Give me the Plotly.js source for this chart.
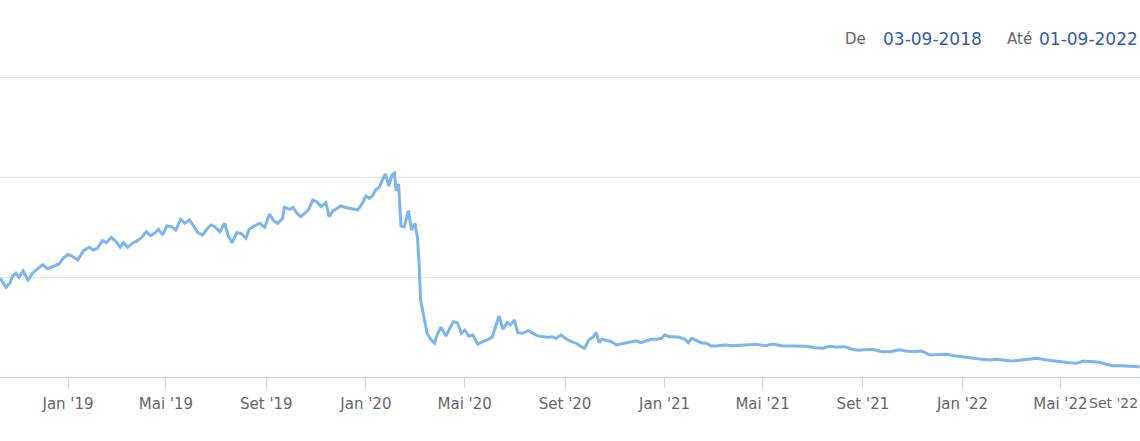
<!DOCTYPE html>
<html>
<head>
<meta charset="utf-8">
<script src="https://cdn.plot.ly/plotly-3.0.1.min.js"></script>
<style>
	body { margin: 0; background: #fff; }
	#chart { width: 1140px; height: 441px; }
</style>
</head>
<body>
<div id="chart"></div>
<script>
const dates = [
	'2018-10-10', '2018-10-13', '2018-10-17', '2018-10-22', '2018-10-25', '2018-10-29',
	'2018-11-02', '2018-11-07', '2018-11-13', '2018-11-19', '2018-11-25', '2018-12-01',
	'2018-12-07', '2018-12-14', '2018-12-21', '2018-12-26', '2019-01-01', '2019-01-07',
	'2019-01-13', '2019-01-20', '2019-01-27', '2019-02-01', '2019-02-06', '2019-02-12',
	'2019-02-17', '2019-02-23', '2019-03-01', '2019-03-06', '2019-03-10', '2019-03-15',
	'2019-03-22', '2019-03-27', '2019-04-01', '2019-04-07', '2019-04-12', '2019-04-17',
	'2019-04-22', '2019-04-27', '2019-05-02', '2019-05-08', '2019-05-13', '2019-05-19',
	'2019-05-24', '2019-05-30', '2019-06-04', '2019-06-09', '2019-06-15', '2019-06-20',
	'2019-06-25', '2019-06-30', '2019-07-06', '2019-07-12', '2019-07-16', '2019-07-21',
	'2019-07-27', '2019-08-01', '2019-08-07', '2019-08-11', '2019-08-17', '2019-08-24',
	'2019-08-30', '2019-09-05', '2019-09-10', '2019-09-15', '2019-09-21', '2019-09-23',
	'2019-09-30', '2019-10-04', '2019-10-08', '2019-10-13', '2019-10-18', '2019-10-23',
	'2019-10-28', '2019-11-02', '2019-11-07', '2019-11-13', '2019-11-17', '2019-11-22',
	'2019-11-27', '2019-12-01', '2019-12-06', '2019-12-12', '2019-12-18', '2019-12-22',
	'2019-12-28', '2020-01-01', '2020-01-05', '2020-01-09', '2020-01-13', '2020-01-18',
	'2020-01-21', '2020-01-25', '2020-01-29', '2020-02-02', '2020-02-05', '2020-02-07',
	'2020-02-10', '2020-02-13', '2020-02-17', '2020-02-22', '2020-02-26', '2020-03-01',
	'2020-03-04', '2020-03-06', '2020-03-08', '2020-03-11', '2020-03-14', '2020-03-16',
	'2020-03-21', '2020-03-25', '2020-03-29', '2020-04-02', '2020-04-08', '2020-04-12',
	'2020-04-17', '2020-04-22', '2020-04-27', '2020-05-01', '2020-05-06', '2020-05-11',
	'2020-05-17', '2020-05-23', '2020-05-30', '2020-06-04', '2020-06-07', '2020-06-12',
	'2020-06-17', '2020-06-22', '2020-06-26', '2020-07-01', '2020-07-05', '2020-07-11',
	'2020-07-18', '2020-07-24', '2020-07-30', '2020-08-05', '2020-08-11', '2020-08-16',
	'2020-08-21', '2020-08-27', '2020-09-03', '2020-09-09', '2020-09-15', '2020-09-21',
	'2020-09-25', '2020-09-30', '2020-10-05', '2020-10-09', '2020-10-13', '2020-10-16',
	'2020-10-22', '2020-10-28', '2020-11-03', '2020-11-09', '2020-11-15', '2020-11-21',
	'2020-11-27', '2020-12-03', '2020-12-10', '2020-12-16', '2020-12-22', '2020-12-28',
	'2021-01-01', '2021-01-07', '2021-01-13', '2021-01-19', '2021-01-26', '2021-01-30',
	'2021-02-03', '2021-02-09', '2021-02-15', '2021-02-21', '2021-02-27', '2021-03-05',
	'2021-03-16', '2021-03-26', '2021-04-05', '2021-04-15', '2021-04-23', '2021-05-04',
	'2021-05-14', '2021-05-24', '2021-06-03', '2021-06-13', '2021-06-24', '2021-07-04',
	'2021-07-14', '2021-07-22', '2021-07-30', '2021-08-10', '2021-08-18', '2021-08-26',
	'2021-09-05', '2021-09-13', '2021-09-24', '2021-10-04', '2021-10-16', '2021-10-24',
	'2021-11-03', '2021-11-12', '2021-11-22', '2021-12-02', '2021-12-12', '2021-12-22',
	'2022-01-02', '2022-01-12', '2022-01-22', '2022-02-03', '2022-02-11', '2022-02-19',
	'2022-03-02', '2022-03-12', '2022-03-22', '2022-04-02', '2022-04-12', '2022-04-22',
	'2022-05-02', '2022-05-12', '2022-05-21', '2022-05-29', '2022-06-08', '2022-06-18',
	'2022-06-26', '2022-07-04', '2022-07-15', '2022-07-25', '2022-08-06'
];

const values = [
	9.87, 9.53, 8.97, 9.43, 10.10, 10.37,
	9.97, 10.60, 9.70, 10.43, 10.80, 11.23,
	10.83, 11.10, 11.30, 11.87, 12.27, 12.03,
	11.70, 12.63, 12.97, 12.70, 12.87, 13.63,
	13.43, 13.97, 13.53, 12.97, 13.43, 12.97,
	13.43, 13.63, 13.93, 14.53, 14.13, 14.37,
	14.77, 14.20, 15.10, 15.03, 14.70, 15.77,
	15.37, 15.70, 15.03, 14.43, 14.20, 14.77,
	15.20, 15.03, 14.53, 15.37, 14.20, 13.43,
	14.43, 14.37, 13.87, 14.77, 15.10, 15.37,
	14.97, 16.30, 15.63, 15.37, 15.87, 16.97,
	16.77, 16.97, 16.43, 16.03, 16.37, 16.77,
	17.70, 17.53, 17.03, 17.43, 16.03, 16.63,
	16.87, 17.10, 16.97, 16.87, 16.77, 16.70,
	17.43, 18.10, 17.87, 18.10, 18.70, 19.03,
	19.70, 20.30, 19.10, 20.20, 20.37, 18.63,
	19.30, 15.10, 15.03, 16.63, 14.70, 15.37,
	14.03, 11.70, 7.70, 6.37, 5.37, 4.37,
	3.70, 3.37, 4.37, 4.97, 4.10, 4.70,
	5.53, 5.43, 4.37, 4.70, 4.10, 4.20,
	3.30, 3.53, 3.77, 4.03, 4.87, 6.10,
	4.77, 5.43, 5.20, 5.70, 4.43, 4.37,
	4.63, 4.37, 4.10, 4.03, 3.97, 4.03,
	3.87, 4.20, 3.77, 3.53, 3.37, 3.03,
	2.87, 3.70, 3.97, 4.43, 3.43, 3.77,
	3.63, 3.53, 3.20, 3.30, 3.37, 3.53,
	3.63, 3.43, 3.63, 3.77, 3.77, 3.87,
	4.20, 4.03, 4.03, 3.97, 3.77, 3.43,
	3.87, 3.63, 3.43, 3.37, 3.10, 3.10,
	3.20, 3.13, 3.20, 3.27, 3.27, 3.13,
	3.30, 3.13, 3.13, 3.13, 3.07, 2.93,
	2.87, 3.07, 3.00, 3.03, 2.80, 2.67,
	2.73, 2.77, 2.53, 2.53, 2.73, 2.60,
	2.53, 2.60, 2.20, 2.27, 2.27, 2.13,
	2.00, 1.87, 1.80, 1.70, 1.77, 1.70,
	1.60, 1.67, 1.73, 1.87, 1.73, 1.60,
	1.53, 1.43, 1.37, 1.60, 1.53, 1.47,
	1.27, 1.13, 1.13, 1.10, 1.03
];

const tickVals = [
	'2019-01-01', '2019-05-01', '2019-09-01',
	'2020-01-01', '2020-05-01', '2020-09-01',
	'2021-01-01', '2021-05-01', '2021-09-01',
	'2022-01-01', '2022-05-01'
];
const tickText = [
	"Jan '19", "Mai '19", "Set '19",
	"Jan '20", "Mai '20", "Set '20",
	"Jan '21", "Mai '21", "Set '21",
	"Jan '22", "Mai '22"
];
const lastTickText = "Set '22";

const fromLabel = 'De';
const fromDate = '03-09-2018';
const toLabel = 'Até';
const toDate = '01-09-2022';

const font = 'DejaVu Sans, sans-serif';
// plot area runs from y=72 to y=377 (305 px for 30.5 units)
const headerY = (30.5 - 0) / 30.5 + 33 / 305;
const tickLabelY = -26 / 305;

function label(text, x, anchor, size, color, y) {
	return {
		text: text, xref: 'paper', yref: 'paper', x: x, y: y,
		xanchor: anchor, yanchor: 'middle', showarrow: false,
		font: { family: font, size: size, color: color }
	};
}

const trace = {
	x: dates,
	y: values,
	type: 'scatter',
	mode: 'lines',
	line: { color: '#7cb5ec', width: 3 },
	hoverinfo: 'skip'
};

const layout = {
	width: 1140,
	height: 441,
	margin: { l: 0, r: 0, t: 72, b: 64 },
	paper_bgcolor: '#ffffff',
	plot_bgcolor: '#ffffff',
	showlegend: false,
	xaxis: {
		type: 'date',
		range: ['2018-10-09 16:00', '2022-08-06 12:00'],
		tickvals: tickVals,
		ticktext: tickText,
		ticks: 'outside',
		ticklen: 10,
		tickcolor: '#ccd6eb',
		tickwidth: 1,
		ticklabelstandoff: 3,
		showline: true,
		linecolor: '#ccd6eb',
		linewidth: 1,
		showgrid: false,
		zeroline: false,
		tickfont: { family: font, size: 15, color: '#666666' }
	},
	yaxis: {
		range: [0, 30.5],
		tickvals: [0, 10, 20, 30],
		showticklabels: false,
		gridcolor: '#e6e6e6',
		gridwidth: 1,
		zeroline: false,
		fixedrange: true
	},
	annotations: [
		label(lastTickText, 1, 'right', 14, '#666666', tickLabelY),
		label(fromLabel, 843 / 1140, 'left', 15, '#666666', headerY),
		label(fromDate, 881 / 1140, 'left', 17, '#335cad', headerY),
		label(toLabel, 1005 / 1140, 'left', 15, '#666666', headerY),
		label(toDate, 1, 'right', 17, '#335cad', headerY)
	]
};

Plotly.newPlot('chart', [trace], layout, { displayModeBar: false, staticPlot: true });
</script>
</body>
</html>
